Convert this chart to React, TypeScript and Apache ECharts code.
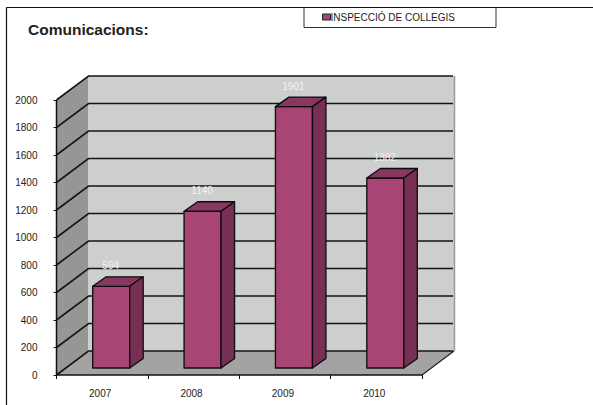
import React, { useEffect, useRef } from "react";
import * as echarts from "echarts";

const categories = ["2007", "2008", "2009", "2010"];
const values = [594, 1140, 1901, 1382];
const yTicks = [0, 200, 400, 600, 800, 1000, 1200, 1400, 1600, 1800, 2000];
const seriesName = "INSPECCIÓ DE COLLEGIS";
const titleText = "Comunicacions:";

const DEPTH_X = 32;
const DEPTH_Y = 24;
const BAR_W = 37;
const BAR_DX = 9;
const BAR_DY = 7;
const BAR_DEPTH_X = 13.5;
const BAR_DEPTH_Y = 9.5;
const font = "'Liberation Sans', Arial, sans-serif";

function poly(points: number[][], fill: string, stroke?: string, lineWidth = 0) {
  return {
    type: "polygon",
    shape: { points },
    style: { fill, stroke: stroke || "none", lineWidth, lineJoin: "round" },
  };
}

function renderWalls(params: any, api: any) {
  const cs = params.coordSys;
  const l = cs.x;
  const r = cs.x + cs.width;
  const t = cs.y;
  const b = cs.y + cs.height;
  const dx = DEPTH_X;
  const dy = DEPTH_Y;
  const children: any[] = [
    poly([[l, t], [l + dx, t - dy], [l + dx, b - dy], [l, b]], "#969696"),
    poly([[l + dx, t - dy], [r + dx, t - dy], [r + dx, b - dy], [l + dx, b - dy]], "#cdcfcf"),
    poly([[l, b], [l + dx, b - dy], [r + dx, b - dy], [r, b]], "#a3a3a3"),
    { type: "line", shape: { x1: r + dx + 0.5, y1: t - dy, x2: r + dx + 0.5, y2: b - dy }, style: { stroke: "#9a9a9a", lineWidth: 1.5 } },
    { type: "line", shape: { x1: l, y1: b, x2: r, y2: b }, style: { stroke: "#111", lineWidth: 1.5 } },
    { type: "line", shape: { x1: r, y1: b, x2: r + dx, y2: b - dy }, style: { stroke: "#222", lineWidth: 1.2 } },
    { type: "line", shape: { x1: l, y1: b, x2: l, y2: t }, style: { stroke: "#111", lineWidth: 1.5 } },
  ];
  yTicks.forEach((v) => {
    const y = api.coord([0, v])[1];
    children.push({
      type: "polyline",
      shape: { points: [[l, y], [l + dx, y - dy], [r + dx - 1, y - dy]] },
      style: { fill: "none", stroke: "#151515", lineWidth: 1.6 },
    });
  });
  return { type: "group", children };
}

function renderBar(_params: any, api: any) {
  const i = api.value(0);
  const v = api.value(1);
  const top = api.coord([i, v]);
  const base = api.coord([i, 0]);
  const x0 = top[0] + BAR_DX - BAR_W / 2;
  const x1 = x0 + BAR_W;
  const yT = top[1] - BAR_DY;
  const yB = base[1] - BAR_DY;
  const ddx = BAR_DEPTH_X;
  const ddy = BAR_DEPTH_Y;
  const stroke = "#0c0c0c";
  return {
    type: "group",
    children: [
      poly([[x0, yT], [x1, yT], [x1, yB], [x0, yB]], "#a84574", stroke, 1.3),
      poly([[x0, yT], [x0 + ddx, yT - ddy], [x1 + ddx, yT - ddy], [x1, yT]], "#873760", stroke, 1.3),
      poly([[x1, yT], [x1 + ddx, yT - ddy], [x1 + ddx, yB - ddy], [x1, yB]], "#782f54", stroke, 1.3),
      {
        type: "text",
        x: x0 + 18,
        y: yT - 20.5,
        style: {
          text: String(v),
          fill: "#f1f1f1",
          font: `10px ${font}`,
          align: "center",
          verticalAlign: "middle",
        },
      },
    ],
  };
}

export default function App() {
  const ref = useRef<HTMLDivElement>(null);
  useEffect(() => {
    const chart = echarts.init(ref.current!, undefined, { renderer: "svg" });
    chart.setOption({
      animation: false,
      backgroundColor: "#ffffff",
      title: {
        text: titleText,
        left: 28,
        top: 21,
        padding: 0,
        textStyle: { fontFamily: font, fontSize: 15.5, fontWeight: "bold", color: "#222" },
      },
      legend: {
        left: 322,
        top: 12,
        padding: 0,
        itemWidth: 8,
        itemHeight: 6,
        itemGap: 0,
        icon: "rect",
        data: [{ name: seriesName, itemStyle: { color: "#a84574", borderColor: "#222", borderWidth: 1 } }],
        textStyle: { fontFamily: font, fontSize: 10, color: "#222", padding: [0, 0, 0, -5] },
      },
      grid: { left: 56.5, top: 100, width: 365.5, height: 275 },
      xAxis: {
        type: "category",
        data: categories,
        axisLine: { show: false },
        axisTick: { show: true, alignWithLabel: false, length: 4, lineStyle: { color: "#111" } },
        axisLabel: { color: "#222", fontFamily: font, fontSize: 10, margin: 13, padding: [0, 4, 0, 0] },
        splitLine: { show: false },
      },
      yAxis: {
        type: "value",
        min: 0,
        max: 2000,
        interval: 200,
        axisLine: { show: false },
        axisTick: { show: true, length: 3, lineStyle: { color: "#111" } },
        axisLabel: {
          color: "#222",
          fontFamily: font,
          fontSize: 10,
          margin: 19,
          padding: [3, 0, 0, 0],
          formatter: (v: number) => String(v),
        },
        splitLine: { show: false },
      },
      graphic: [
        { type: "line", z: 10, shape: { x1: 6.5, y1: 7.5, x2: 593, y2: 7.5 }, style: { stroke: "#111", lineWidth: 1.2 } },
        { type: "line", z: 10, shape: { x1: 6.5, y1: 7.5, x2: 6.5, y2: 405 }, style: { stroke: "#111", lineWidth: 1.2 } },
        { type: "rect", z: 0, shape: { x: 304, y: 7.5, width: 192, height: 20 }, style: { fill: "#fff", stroke: "#333", lineWidth: 1 } },
      ],
      series: [
        {
          type: "custom",
          name: "walls",
          data: [[0, 0]],
          renderItem: renderWalls,
          silent: true,
          z: 1,
          clip: false,
        },
        {
          type: "custom",
          name: seriesName,
          data: values.map((v, i) => [i, v]),
          encode: { x: 0, y: 1 },
          itemStyle: { color: "#a84574" },
          renderItem: renderBar,
          z: 2,
          clip: false,
        },
      ],
    });
    return () => chart.dispose();
  }, []);
  return <div ref={ref} style={{ position: "fixed", left: 0, top: 0, width: 593, height: 405 }} />;
}
